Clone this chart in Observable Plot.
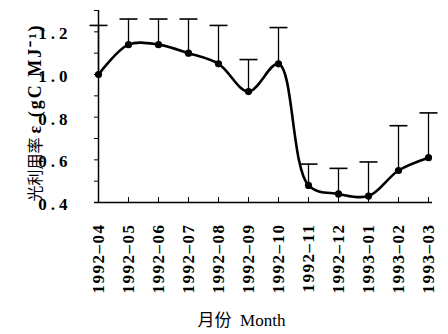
<!DOCTYPE html>
<html>
<head>
<meta charset="utf-8">
<script src="https://cdn.jsdelivr.net/npm/d3@7"></script>
<script src="https://cdn.jsdelivr.net/npm/@observablehq/plot@0.6"></script>
<style>
  html, body { margin: 0; padding: 0; background: #fff; }
</style>
</head>
<body>
<div id="chart"></div>
<script>
const months = ["1992-04","1992-05","1992-06","1992-07","1992-08","1992-09","1992-10","1992-11","1992-12","1993-01","1993-02","1993-03"];
const efficiency = [1.00, 1.14, 1.14, 1.10, 1.05, 0.92, 1.05, 0.48, 0.44, 0.43, 0.55, 0.61];
const errorUpper = [1.23, 1.26, 1.26, 1.26, 1.23, 1.07, 1.22, 0.58, 0.56, 0.59, 0.76, 0.82];
const yDomain = [0.4, 1.3];
const yTickLabels = [0.4, 0.6, 0.8, 1.0, 1.2];
const yTickMarks = [0.4, 0.5, 0.6, 0.7, 0.8, 0.9, 1.0, 1.1, 1.2, 1.3];
const xTitle = "月份  Month";
const yTitleCJK = "光利用率";
const yTitleUnit = "ε (gC MJ⁻¹)";

const data = months.map((m, i) => ({month: m, value: efficiency[i], upper: errorUpper[i]}));

const capSymbol = {
  draw(ctx, size) {
    const w = Math.sqrt(size / Math.PI);
    ctx.moveTo(-w, 0);
    ctx.lineTo(w, 0);
  }
};

const W = 448, H = 334, mL = 94, mR = 16, mT = 10, mB = 132;

const chart = Plot.plot({
  width: W, height: H,
  marginLeft: mL, marginRight: mR, marginTop: mT, marginBottom: mB,
  style: {fontFamily: "'Liberation Serif', 'Noto Sans CJK SC', serif", background: "white", color: "black"},
  x: {type: "point", domain: months, padding: 0},
  y: {domain: yDomain},
  marks: [
    Plot.axisY({ticks: yTickLabels, tickSize: 0, tickPadding: 23, tickFormat: d => d.toFixed(1), fontSize: 17, fontWeight: "bold", dy: 2, label: null, fill: "black"}),
    Plot.axisX({tickRotate: -90, tickSize: 0, tickPadding: 21, fontSize: 17, fontWeight: "bold", label: null, fill: "black", tickFormat: d => d.replace("-", "–")}),
    Plot.tickY(yTickMarks, {y: d => d, insetRight: W - mL - mR - 5, stroke: "black", strokeWidth: 1}),
    Plot.tickX(months, {x: d => d, insetTop: H - mT - mB - 5, stroke: "black", strokeWidth: 1}),
    Plot.ruleY([yDomain[0]], {stroke: "black", strokeWidth: 1.5}),
    Plot.ruleX([months[0]], {stroke: "black", strokeWidth: 1.5}),
    Plot.ruleX(data, {x: "month", y1: "value", y2: "upper", stroke: "black", strokeWidth: 1.3}),
    Plot.dot(data, {x: "month", y: "upper", symbol: capSymbol, r: 9, stroke: "black", strokeWidth: 1.6}),
    Plot.line(data, {x: "month", y: "value", curve: "catmull-rom", stroke: "black", strokeWidth: 2.6}),
    Plot.dot(data, {x: "month", y: "value", r: 3.6, fill: "black"}),
    Plot.text([xTitle], {frameAnchor: "bottom", dy: 123, dx: -22, fontSize: 17, fill: "black", textAnchor: "middle"}),
    Plot.text([yTitleCJK], {frameAnchor: "left", rotate: -90, dx: -59, dy: 63, fontSize: 16, fill: "black", textAnchor: "middle"}),
    Plot.text([yTitleUnit], {frameAnchor: "left", rotate: -90, dx: -59, dy: -28, fontSize: 18, fontWeight: "bold", fill: "black", textAnchor: "middle"})
  ]
});
chart.querySelectorAll('g[aria-label="y-axis tick label"] text').forEach(t => { t.style.letterSpacing = "4px"; });
chart.querySelectorAll('g[aria-label="x-axis tick label"] text').forEach(t => { t.style.letterSpacing = "1.5px"; });
chart.querySelectorAll('g[aria-label="text"] text').forEach(t => {
  if (t.textContent === yTitleUnit) t.style.letterSpacing = "2px";
});
document.getElementById("chart").appendChild(chart);
</script>
</body>
</html>
